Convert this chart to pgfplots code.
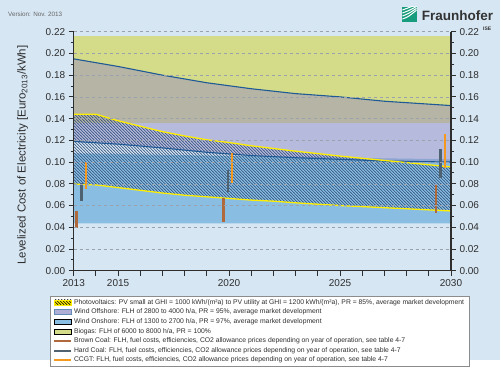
\documentclass[border=0pt]{standalone}
\usepackage{fontspec}
\setmainfont{Liberation Sans}
\usepackage{pgfplots}
\usepackage{pgfplotstable}
\pgfplotsset{compat=1.18}
\usetikzlibrary{patterns}
\definecolor{bg}{HTML}{D6E6F3}
\definecolor{biogas}{HTML}{D4DC8A}
\definecolor{offsh}{RGB}{147,137,196}
\definecolor{onsh}{HTML}{89BEE2}
\definecolor{offline}{HTML}{1F5A96}
\definecolor{pvyellow}{HTML}{FFEE00}
\definecolor{hatch}{HTML}{2A4A78}
\definecolor{browncoal}{HTML}{B0693A}
\definecolor{hardcoal}{HTML}{4E6272}
\definecolor{ccgt}{HTML}{F5981E}
\definecolor{axiscol}{HTML}{2E2E2E}
\definecolor{gridcol}{HTML}{9AA3AD}
\definecolor{fhgreen}{HTML}{179C7D}

\pgfdeclarepatternformonly{mynw}{\pgfqpoint{-1pt}{-1pt}}{\pgfqpoint{4pt}{4pt}}{\pgfqpoint{3pt}{3pt}}{%
  \pgfsetlinewidth{0.55pt}\pgfsetrectcap
  \pgfpathmoveto{\pgfqpoint{0pt}{3pt}}\pgfpathlineto{\pgfqpoint{3pt}{0pt}}\pgfusepath{stroke}}

\pgfplotsset{
  rectleg/.style={legend image code/.code={\draw[##1] (0pt,-2.5pt) rectangle (17pt,2.5pt);}},
  lineleg/.style={legend image code/.code={\draw[##1] (0pt,0pt) -- (17pt,0pt);}},
}

\pgfplotstableread{
x offU offL
2013 0.195 0.119
2015 0.188 0.1165
2017 0.180 0.113
2019 0.173 0.109
2021 0.1675 0.106
2023 0.163 0.104
2025 0.160 0.1025
2027 0.156 0.101
2030 0.152 0.100
}\offshore

\pgfplotstableread{
x pvU pvL
2013 0.144 0.0797
2014 0.144 0.079
2015 0.138 0.0765
2016 0.133 0.074
2017 0.128 0.0715
2018 0.124 0.0695
2019 0.1205 0.068
2020 0.118 0.0665
2021 0.115 0.065
2022 0.1125 0.064
2023 0.110 0.0625
2024 0.1078 0.0612
2025 0.1055 0.060
2026 0.1035 0.059
2027 0.1015 0.058
2028 0.0995 0.057
2029 0.0975 0.056
2030 0.0955 0.055
}\pv

\begin{document}
\begin{tikzpicture}
\fill[bg] (0pt,0pt) rectangle (500pt,360pt);
\node[anchor=west, font=\fontsize{6.3}{7}\selectfont, text=black!60, inner sep=0] at (8pt,345.3pt) {Version: Nov. 2013};
% logo
\fill[fhgreen] (402.3pt,338.3pt) rectangle (416.7pt,353.3pt);
\begin{scope}
\clip (402.3pt,338.3pt) rectangle (416.7pt,353.3pt);
\foreach \d in {0,3,6,9} {
  \draw[white, line width=1pt] (402.3pt,341pt+\d pt) .. controls (408pt,343pt+\d pt) .. (416.7pt,350pt+0.6*\d pt);
}
\end{scope}
\node[anchor=base west, font=\fontsize{13.5}{14}\selectfont\bfseries, text=black!80, inner sep=0] at (421.7pt,339.3pt) {Fraunhofer};
\node[anchor=base west, font=\fontsize{5}{6}\selectfont\bfseries, text=black!80, inner sep=0] at (483pt,329.3pt) {ISE};

\begin{axis}[
  at={(73.7pt,89.3pt)}, anchor=south west, scale only axis,
  width=377.3pt, height=239pt,
  xmin=2013, xmax=2030, ymin=0, ymax=0.22,
  axis x line*=bottom, axis y line*=left,
  axis line style={axiscol, line width=1.1pt},
  tick style={axiscol, line width=0.9pt},
  major tick length=5pt, minor tick length=3pt,
  tick align=outside,
  xtick={2013,2014,...,2030},
  xticklabels={2013,,2015,,,,,2020,,,,,2025,,,,,2030},
  ytick={0,0.02,0.04,0.06,0.08,0.10,0.12,0.14,0.16,0.18,0.20,0.22},
  minor ytick={0.01,0.03,0.05,0.07,0.09,0.11,0.13,0.15,0.17,0.19,0.21},
  ymajorgrids, grid style={gridcol, dashed, line width=0.5pt},
  axis on top,
  tick label style={font=\fontsize{10}{12}\selectfont, text=axiscol},
  /pgf/number format/assume math mode=true,
  yticklabel style={/pgf/number format/.cd, fixed, fixed zerofill, precision=2},
  ylabel={Levelized Cost of Electricity [Euro\textsubscript{2013}/kWh]},
  ylabel style={at={(axis description cs:-0.1352,0.484)}, anchor=center, font=\fontsize{11.5}{13}\selectfont, text=axiscol},
  legend style={at={(axis description cs:-0.0628,-0.1059)}, anchor=north west,
    draw=black!45, fill=white, line width=0.5pt, font=\fontsize{6.8}{7.6}\selectfont, text=axiscol,
    inner xsep=3pt, inner ysep=1pt, row sep=-0.8pt},
  legend cell align=left,
]
% Biogas band
\addplot[fill=biogas, draw=none, forget plot] coordinates {(2013,0.1355) (2030,0.1355) (2030,0.2157) (2013,0.2157)};
% Onshore band
\addplot[fill=onsh, draw=none, forget plot] coordinates {(2013,0.0435) (2030,0.0435) (2030,0.1025) (2013,0.108)};
% Offshore band (upper edge forward, lower edge back)
\addplot[fill=offsh, fill opacity=0.47, draw=none, forget plot] coordinates {
(2013,0.195) (2015,0.188) (2017,0.180) (2019,0.173) (2021,0.1675) (2023,0.163) (2025,0.160) (2027,0.156) (2030,0.152)
(2030,0.100) (2027,0.101) (2025,0.1025) (2023,0.104) (2021,0.106) (2019,0.109) (2017,0.113) (2015,0.1165) (2013,0.119)};
% PV hatched band
\addplot[pattern=mynw, pattern color=hatch, draw=none, forget plot] coordinates {
(2013,0.144) (2014,0.144) (2015,0.138) (2016,0.133) (2017,0.128) (2018,0.124) (2019,0.1205) (2020,0.118) (2021,0.115)
(2022,0.1125) (2023,0.110) (2024,0.1078) (2025,0.1055) (2026,0.1035) (2027,0.1015) (2028,0.0995) (2029,0.0975) (2030,0.0955)
(2030,0.055) (2029,0.056) (2028,0.057) (2027,0.058) (2026,0.059) (2025,0.060) (2024,0.0612) (2023,0.0625) (2022,0.064)
(2021,0.065) (2020,0.0665) (2019,0.068) (2018,0.0695) (2017,0.0715) (2016,0.074) (2015,0.0765) (2014,0.079) (2013,0.0797)};
% lines
\addplot[offline, line width=1.1pt, forget plot] table[x=x, y=offU] {\offshore};
\addplot[offline, line width=1.1pt, forget plot] table[x=x, y=offL] {\offshore};
\addplot[pvyellow, line width=1.3pt, forget plot] table[x=x, y=pvU] {\pv};
\addplot[pvyellow, line width=1.3pt, forget plot] table[x=x, y=pvL] {\pv};
% conventional ranges
\addplot[browncoal, line width=2.8pt, forget plot] coordinates {(2013.14,0.039) (2013.14,0.055)};
\addplot[browncoal, line width=2.8pt, forget plot] coordinates {(2019.74,0.045) (2019.74,0.0667)};
\addplot[browncoal, line width=2.8pt, forget plot] coordinates {(2029.32,0.0535) (2029.32,0.080)};
\addplot[hardcoal, line width=2.8pt, forget plot] coordinates {(2013.36,0.0645) (2013.36,0.081)};
\addplot[hardcoal, line width=2.8pt, forget plot] coordinates {(2019.95,0.072) (2019.95,0.0928)};
\addplot[hardcoal, line width=2.8pt, forget plot] coordinates {(2029.53,0.085) (2029.53,0.112)};
\addplot[ccgt, line width=2.8pt, forget plot] coordinates {(2013.55,0.075) (2013.55,0.0999)};
\addplot[ccgt, line width=2.8pt, forget plot] coordinates {(2020.13,0.081) (2020.13,0.1088)};
\addplot[ccgt, line width=2.8pt, forget plot] coordinates {(2029.73,0.0944) (2029.73,0.1257)};
% legend
\addlegendimage{rectleg, draw=pvyellow, line width=0.8pt, preaction={fill=pvyellow}, pattern=mynw, pattern color=black}
\addlegendentry{Photovoltaics: PV small at GHI = 1000 kWh/(m²a) to PV utility at GHI = 1200 kWh/(m²a), PR = 85\%, average market development}
\addlegendimage{rectleg, draw=offline!70, line width=0.6pt, fill=offsh!60!bg}
\addlegendentry{Wind Offshore: FLH of 2800 to 4000 h/a, PR = 95\%, average market development}
\addlegendimage{rectleg, draw=none, fill=onsh}
\addlegendentry{Wind Onshore: FLH of 1300 to 2700 h/a, PR = 97\%, average market development}
\addlegendimage{rectleg, draw=none, fill=biogas}
\addlegendentry{Biogas: FLH of 6000 to 8000 h/a, PR = 100\%}
\addlegendimage{lineleg, browncoal, line width=1.8pt}
\addlegendentry{Brown Coal: FLH, fuel costs, efficiencies, CO2 allowance prices depending on year of operation, see table 4-7}
\addlegendimage{lineleg, hardcoal, line width=1.8pt}
\addlegendentry{Hard Coal: FLH, fuel costs, efficiencies, CO2 allowance prices depending on year of operation, see table 4-7}
\addlegendimage{lineleg, ccgt, line width=1.8pt}
\addlegendentry{CCGT: FLH, fuel costs, efficiencies, CO2 allowance prices depending on year of operation, see table 4-7}
\end{axis}

\begin{axis}[
  at={(73.7pt,89.3pt)}, anchor=south west, scale only axis,
  width=377.3pt, height=239pt,
  xmin=2013, xmax=2030, ymin=0, ymax=0.22,
  axis x line=none, axis y line*=right,
  axis line style={axiscol, line width=1.1pt},
  tick style={axiscol, line width=0.9pt},
  major tick length=5pt, minor tick length=3pt,
  tick align=outside,
  ytick={0,0.02,0.04,0.06,0.08,0.10,0.12,0.14,0.16,0.18,0.20,0.22},
  minor ytick={0.01,0.03,0.05,0.07,0.09,0.11,0.13,0.15,0.17,0.19,0.21},
  tick label style={font=\fontsize{10}{12}\selectfont, text=axiscol},
  /pgf/number format/assume math mode=true,
  yticklabel style={/pgf/number format/.cd, fixed, fixed zerofill, precision=2},
]
\addplot[draw=none, forget plot] coordinates {(2013,0) (2030,0.22)};
\end{axis}
\end{tikzpicture}
\end{document}
